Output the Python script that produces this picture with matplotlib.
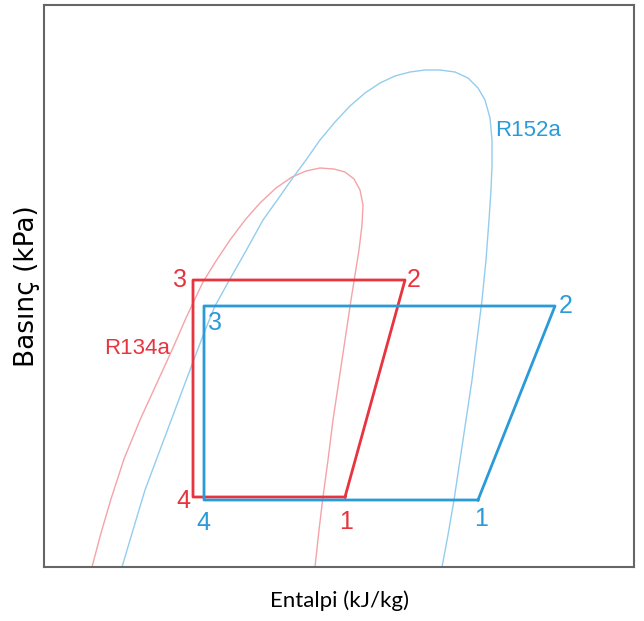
import numpy as np
import matplotlib.pyplot as plt

# refrigeration cycles on a schematic p-h diagram (arbitrary units)
red = '#e8343e'
blue = '#2a9bd8'
red_dome = '#f5a3a8'
blue_dome = '#93cdee'

# saturation domes (left branch up to the critical point, then right branch down)
r134a_h = [48, 57, 67, 80, 96, 112, 128, 142, 149, 159, 172, 186, 201, 216,
           232, 248, 262, 276,
           290, 301, 310, 316, 319, 318, 315, 311, 307, 301, 295, 289, 284,
           279, 275, 271]
r134a_p = [0, 34, 68, 108, 147, 182, 217, 249, 264, 285, 306, 327, 347, 364,
           379, 390, 396, 399,
           398, 395, 388, 377, 362, 342, 317, 292, 267, 227, 187, 147, 107,
           70, 37, 0]

r152a_h = [78, 89, 101, 116, 131, 146, 160, 171, 186, 203, 219, 234, 248, 262,
           276, 291, 306, 321, 336, 351, 366, 381,
           396, 411, 424, 434, 441, 446, 448, 448, 447, 445, 442, 438, 433,
           428, 422, 416, 410, 404, 398]
r152a_p = [0, 37, 77, 117, 157, 197, 234, 261, 288, 318, 347, 368, 388, 407,
           427, 445, 461, 474, 484, 491, 495, 497,
           497, 495, 489, 479, 467, 449, 427, 402, 377, 347, 307, 267, 227,
           187, 147, 107, 67, 32, 0]

# cycle state points 1-2-3-4
r134a_cycle_h = [301, 361, 149, 149]
r134a_cycle_p = [70, 287, 287, 70]
r152a_cycle_h = [434, 511, 160, 160]
r152a_cycle_p = [67, 261, 261, 67]

fig = plt.figure(figsize=(6.44, 6.21), dpi=100)
ax = fig.add_axes([44 / 644, 54 / 621, 590 / 644, 562 / 621])

ax.plot(r134a_h, r134a_p, color=red_dome, lw=1.0)
ax.plot(r152a_h, r152a_p, color=blue_dome, lw=1.0)

ax.plot(r134a_cycle_h + r134a_cycle_h[:1], r134a_cycle_p + r134a_cycle_p[:1],
        color=red, lw=2.0)
ax.plot(r152a_cycle_h + r152a_cycle_h[:1], r152a_cycle_p + r152a_cycle_p[:1],
        color=blue, lw=2.0)

num_font = dict(fontsize=18, family='Liberation Sans', ha='center', va='center')
# state labels for R134a
ax.text(r134a_cycle_h[0] + 1, r134a_cycle_p[0] - 25, '1', color=red, **num_font)
ax.text(r134a_cycle_h[1] + 9, r134a_cycle_p[1], '2', color=red, **num_font)
ax.text(r134a_cycle_h[2] - 13, r134a_cycle_p[2], '3', color=red, **num_font)
ax.text(r134a_cycle_h[3] - 10, r134a_cycle_p[3] - 4, '4', color=red, **num_font)
# state labels for R152a
ax.text(r152a_cycle_h[0] + 3, r152a_cycle_p[0] - 19, '1', color=blue, **num_font)
ax.text(r152a_cycle_h[1] + 11, r152a_cycle_p[1], '2', color=blue, **num_font)
ax.text(r152a_cycle_h[2] + 11, r152a_cycle_p[2] - 17, '3', color=blue, **num_font)
ax.text(r152a_cycle_h[3] - 1, r152a_cycle_p[3] - 23, '4', color=blue, **num_font)

ax.text(93, 219, 'R134a', color=red, fontsize=16, family='Liberation Sans',
        ha='center', va='center')
ax.text(484, 436, 'R152a', color=blue, fontsize=16, family='Liberation Sans',
        ha='center', va='center')

ax.set_xlim(0, 590)
ax.set_ylim(0, 562)
ax.set_xticks([])
ax.set_yticks([])
for s in ax.spines.values():
    s.set_color('#666666')
    s.set_linewidth(1.5)

ax.set_xlabel('Entalpi (kJ/kg)', fontsize=16, family='Lato', labelpad=17)
ax.set_ylabel('Basınç (kPa)', fontsize=19, family='DejaVu Sans', labelpad=3)

fig.savefig('out.png', dpi=100)
